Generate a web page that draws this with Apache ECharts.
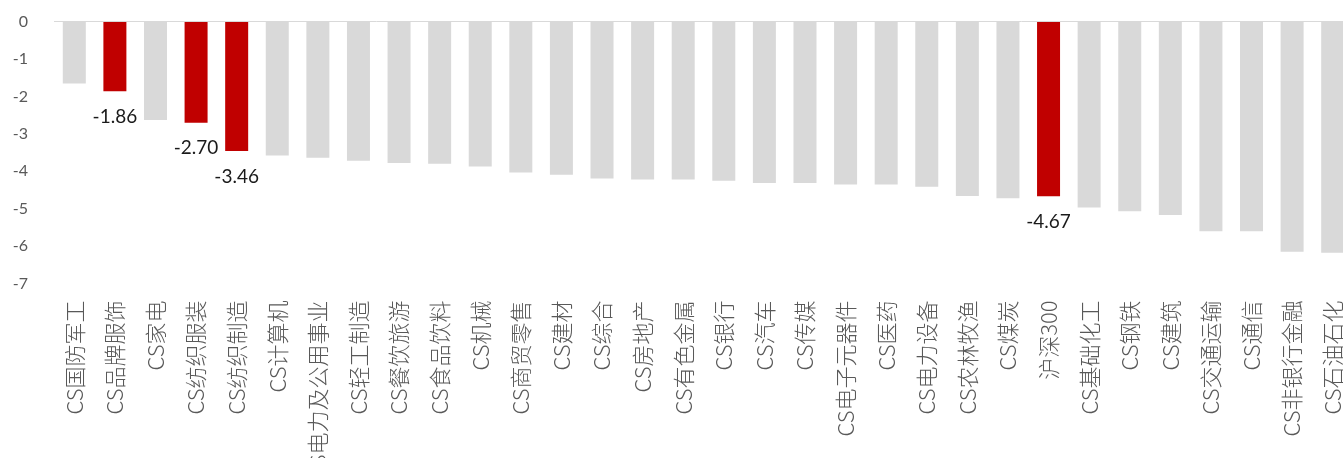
<!DOCTYPE html>
<html>
<head>
<meta charset="utf-8">
<script src="https://cdn.jsdelivr.net/npm/echarts@6/dist/echarts.min.js"></script>
<style>
html,body{margin:0;padding:0;background:#fff;}
#chart{width:1343px;height:458px;}
</style>
</head>
<body>
<div id="chart"></div>
<script>
const categories = ['CS国防军工','CS品牌服饰','CS家电','CS纺织服装','CS纺织制造','CS计算机','CS电力及公用事业','CS轻工制造','CS餐饮旅游','CS食品饮料','CS机械','CS商贸零售','CS建材','CS综合','CS房地产','CS有色金属','CS银行','CS汽车','CS传媒','CS电子元器件','CS医药','CS电力设备','CS农林牧渔','CS煤炭','沪深300','CS基础化工','CS钢铁','CS建筑','CS交通运输','CS通信','CS非银行金融','CS石油石化'];
const values = [-1.65,-1.86,-2.63,-2.70,-3.46,-3.58,-3.64,-3.72,-3.78,-3.80,-3.87,-4.03,-4.09,-4.19,-4.22,-4.22,-4.25,-4.31,-4.31,-4.35,-4.35,-4.41,-4.66,-4.72,-4.67,-4.97,-5.07,-5.17,-5.60,-5.60,-6.15,-6.18];
const highlighted = ['CS品牌服饰','CS纺织服装','CS纺织制造','沪深300'];
const yTicks = {min: -7, max: 0, interval: 1};

const GRAY = '#D9D9D9', RED = '#C00000';
const data = values.map((v, i) => {
  const hi = highlighted.includes(categories[i]);
  return {
    value: v,
    itemStyle: {color: hi ? RED : GRAY},
    label: {show: hi}
  };
});

const chart = echarts.init(document.getElementById('chart'), null, {renderer: 'canvas'});
chart.setOption({
  animation: false,
  backgroundColor: '#ffffff',
  grid: {left: 54, width: 1299, top: 21.7, bottom: 174.5, containLabel: false, outerBoundsMode: 'none'},
  xAxis: {
    type: 'category',
    data: categories,
    position: 'bottom',
    axisLine: {show: false},
    axisTick: {show: false},
    axisLabel: {
      rotate: 90,
      interval: 0,
      margin: 17,
      color: '#595959',
      fontSize: 22,
      fontWeight: 300,
      fontFamily: '"Noto Sans CJK SC", sans-serif'
    },
    splitLine: {show: false}
  },
  yAxis: {
    type: 'value',
    min: yTicks.min,
    max: yTicks.max,
    interval: yTicks.interval,
    axisLine: {show: false},
    axisTick: {show: false},
    splitLine: {show: false},
    axisLabel: {
      margin: 26,
      color: '#595959',
      fontSize: 16,
      fontFamily: 'Lato, "Open Sans", sans-serif'
    }
  },
  series: [{
    type: 'bar',
    data: data,
    barWidth: 23,
    label: {
      position: 'bottom',
      distance: 16,
      color: '#1a1a1a',
      fontSize: 19,
      fontFamily: 'Lato, "Open Sans", sans-serif',
      formatter: p => p.value.toFixed(2)
    },
    markLine: {
      silent: true,
      symbol: 'none',
      label: {show: false},
      lineStyle: {color: '#D9D9D9', width: 1, type: 'solid'},
      data: [{yAxis: 0}]
    }
  }]
});
</script>
</body>
</html>
